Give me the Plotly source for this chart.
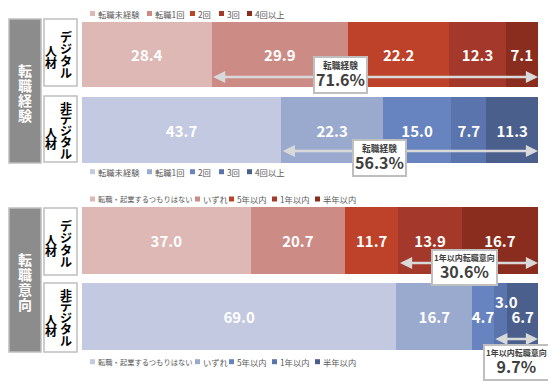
import plotly.graph_objects as go

# page is placed with the browser's 8px body margin, so the figure is 8px smaller
OFF = 8
W, H = 556 - OFF, 391 - OFF

# ---------------- data ----------------
groups = ["デジタル人材", "非デジタル人材"]
group_cols_right = [["デ", "ジ", "タ", "ル"], ["非", "デ", "ジ", "タ", "ル"]]
group_cols_left = [["人", "材"], ["人", "材"]]
panel_titles = ["転職経験", "転職意向"]

exp_labels = ["転職未経験", "転職1回", "2回", "3回", "4回以上"]
exp_digital = [28.4, 29.9, 22.2, 12.3, 7.1]
exp_nondigital = [43.7, 22.3, 15.0, 7.7, 11.3]

int_labels = ["転職・起業するつもりはない", "いずれ", "5年以内", "1年以内", "半年以内"]
int_digital = [37.0, 20.7, 11.7, 13.9, 16.7]
int_nondigital = [69.0, 16.7, 4.7, 3.0, 6.7]

callout_titles = ["転職経験", "1年以内転職意向"]

red = ["#DDB8B5", "#CD8B86", "#BD4229", "#A4382A", "#8B2D1E"]
blue = ["#C2C9E0", "#9AAACF", "#6784C0", "#5A74AD", "#4A5F8C"]

FONT = "Noto Sans CJK JP, Noto Sans, sans-serif"


def py(p):
    return 1 - (p - OFF) / H


def px(p):
    return (p - OFF) / W


panels = [
    dict(labels=exp_labels, values=[exp_digital, exp_nondigital], xa="x", ya="y",
         arrow_from=1, callout=lambda v: round(100 - v[0], 1)),
    dict(labels=int_labels, values=[int_digital, int_nondigital], xa="x2", ya="y2",
         arrow_from=3, callout=lambda v: round(v[3] + v[4], 1)),
]

fig = go.Figure()

for p in panels:
    vd, vn = p["values"]
    for k, lab in enumerate(p["labels"]):
        vals = [vd[k], vn[k]]
        fig.add_trace(go.Bar(
            x=vals, y=groups, orientation="h", name=lab,
            marker=dict(color=[red[k], blue[k]], line=dict(width=0)),
            text=[f"{v:.1f}" for v in vals],
            textposition=["inside", "inside"],
            insidetextanchor="middle",
            constraintext="none", textangle=0,
            textfont=dict(family=FONT, size=15, color="white", weight="bold"),
            xaxis=p["xa"], yaxis=p["ya"], hoverinfo="name+x",
        ))

# the 3.0 segment of 非デジタル (intention) is too thin: label shown above
fig.data[5 + 3].textposition = ["inside", "none"]

row_layout = dict(range=[1.5, -0.5], visible=False, type="category",
                  categoryorder="array", categoryarray=groups)
fig.update_layout(
    width=W, height=H, margin=dict(l=0, r=0, t=0, b=0),
    barmode="stack", barnorm="percent", bargap=0.126, showlegend=False,
    plot_bgcolor="white", paper_bgcolor="white",
    font=dict(family=FONT),
    xaxis=dict(range=[0, 100], visible=False, domain=[px(82), px(538)], anchor="y"),
    yaxis=dict(domain=[py(167.75), py(16.75)], anchor="x", **row_layout),
    xaxis2=dict(range=[0, 100], visible=False, domain=[px(82), px(538)], anchor="y2"),
    yaxis2=dict(domain=[py(354.5), py(202.5)], anchor="x2", **row_layout),
)

shapes = []
annotations = []

# ---------- left labels ----------
gray_boxes = [(19, 163), (208, 352)]
white_boxes = [[(19, 86), (96, 162)], [(208, 275), (283, 352)]]
right_offsets = [[17.5, 29.5, 41.5, 53.5], [11, 22.5, 34, 45.5, 57]]
left_offsets = [[31, 43], [36, 47]]
for pi, (t, b) in enumerate(gray_boxes):
    shapes.append(dict(type="rect", xref="paper", yref="paper", x0=px(9), x1=px(41),
                       y0=py(b), y1=py(t), fillcolor="#8C8C8C",
                       line=dict(color="#BFBFBF", width=1.5), layer="above"))
    for ci, ch in enumerate(panel_titles[pi]):
        annotations.append(dict(text=f"<b>{ch}</b>", xref="paper", yref="paper",
                                x=px(25), y=py(t + 51 + 15 * ci), showarrow=False,
                                font=dict(size=14, color="white", family=FONT),
                                xanchor="center", yanchor="middle"))
    for gi, (wt, wb) in enumerate(white_boxes[pi]):
        shapes.append(dict(type="rect", xref="paper", yref="paper", x0=px(44), x1=px(77),
                           y0=py(wb), y1=py(wt), fillcolor="white",
                           line=dict(color="#BFBFBF", width=1.5), layer="above"))
        for ci, ch in enumerate(group_cols_right[gi]):
            annotations.append(dict(text=f"<b>{ch}</b>", xref="paper", yref="paper",
                                    x=px(65.5), y=py(wt + right_offsets[gi][ci]), showarrow=False,
                                    font=dict(size=12, color="black", family=FONT),
                                    xanchor="center", yanchor="middle"))
        for ci, ch in enumerate(group_cols_left[gi]):
            annotations.append(dict(text=f"<b>{ch}</b>", xref="paper", yref="paper",
                                    x=px(51), y=py(wt + left_offsets[gi][ci]), showarrow=False,
                                    font=dict(size=12, color="black", family=FONT),
                                    xanchor="center", yanchor="middle"))

# ---------- legends ----------
legend_y = [[13.5, 171.7], [199, 361.7]]
legend_x = [[90, 147, 190, 219, 247], [90, 195, 229, 272, 315]]
legend_font = [[8.3, 8.3, 8.3, 8.3, 8.3], [7.3, 8.3, 8.3, 8.3, 8.3]]
for pi, p in enumerate(panels):
    for gi, colors in enumerate([red, blue]):
        ly = legend_y[pi][gi]
        for k, lab in enumerate(p["labels"]):
            lx = legend_x[pi][k]
            shapes.append(dict(type="rect", xref="paper", yref="paper",
                               x0=px(lx), x1=px(lx + 5), y0=py(ly + 2.5), y1=py(ly - 2.5),
                               fillcolor=colors[k], line=dict(width=0)))
            annotations.append(dict(text=lab, xref="paper", yref="paper",
                                    x=px(lx + 6), y=py(ly), showarrow=False,
                                    xanchor="left", yanchor="middle",
                                    font=dict(size=legend_font[pi][k], color="#595959", family=FONT)))

# ---------- arrows and callouts ----------
arrow_y = [[77, 151], [263, 339]]
callout_pos = [[(340.5, 75), (379.5, 157.5)], [(464, 267), (516.5, 362.5)]]
title_size = [8.7, 8.0]
for pi, p in enumerate(panels):
    for gi, v in enumerate(p["values"]):
        tot = sum(v)
        start = sum(v[:p["arrow_from"]]) / tot * 100
        annotations.append(dict(x=100, y=py(arrow_y[pi][gi]), xref=p["xa"], yref="paper",
                                ax=start, ay=0, axref=p["xa"], ayref="pixel",
                                text="", showarrow=True, arrowhead=2, arrowside="end+start",
                                arrowsize=0.9, arrowwidth=2.7, arrowcolor="#D9D9D9",
                                standoff=0, startstandoff=0))
        cx, cy = callout_pos[pi][gi]
        val = p["callout"](v)
        annotations.append(dict(
            x=px(cx), y=py(cy), xref="paper", yref="paper", showarrow=False,
            text=(f"<span style='font-size:{title_size[pi]}px'><b>{callout_titles[pi]}</b></span>"
                  f"<br><span style='font-size:16px'><b>{val:.1f}%</b></span>"),
            font=dict(size=13, color="#404040", family=FONT),
            bgcolor="white", bordercolor="#BFBFBF", borderwidth=2, borderpad=1,
            xanchor="center", yanchor="middle", align="center"))

# label for the thin 3.0 segment
vn = int_nondigital
tot = sum(vn)
mid = (sum(vn[:3]) + vn[3] / 2) / tot * 100
annotations.append(dict(x=mid, y=py(301), xref="x2", yref="paper", showarrow=False,
                        text=f"<b>{vn[3]:.1f}</b>", xshift=6,
                        xanchor="center", yanchor="middle",
                        font=dict(size=15, color="white", family=FONT)))

fig.update_layout(shapes=shapes, annotations=annotations)
fig.write_html("out.html")
